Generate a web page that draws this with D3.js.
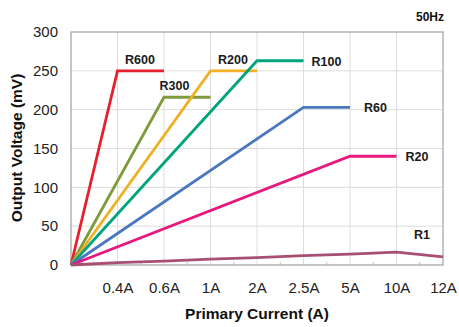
<!DOCTYPE html>
<html><head><meta charset="utf-8">
<script src="https://cdn.jsdelivr.net/npm/d3@7"></script>
<style>body{margin:0;background:#fff}svg{display:block}</style>
</head><body>
<svg id="c" width="459" height="327"></svg>
<script>
const categories = ["0", "0.4A", "0.6A", "1A", "2A", "2.5A", "5A", "10A", "12A"];
const yTicks = [0, 50, 100, 150, 200, 250, 300];
const seriesNames = ["R600", "R300", "R200", "R100", "R60", "R20", "R1"];
const seriesColors = ["#e5202f", "#7f9b3b", "#efb024", "#00a57b", "#4a77bf", "#e8177d", "#a84f74"];
const R600 = [0, 250, 250, null, null, null, null, null, null];
const R300 = [0, null, 216, 216, null, null, null, null, null];
const R200 = [0, null, null, 250, 250, null, null, null, null];
const R100 = [0, null, null, null, 263, 263, null, null, null];
const R60  = [0, null, null, null, null, 203, 203, null, null];
const R20  = [0, null, null, null, null, null, 140, 140, null];
const R1   = [0, 3, 5, 7.5, 9.5, 12, 14, 16.5, 10.5];
const seriesValues = [R600, R300, R200, R100, R60, R20, R1];
// label anchor: [category index, dx (px), dy (px), anchor]
const labelPos = [[2,-24,-7,"middle"],[3,-36,-7,"middle"],[4,-24,-7,"middle"],[5,8,5,"start"],[6,14,5,"start"],[7,9,5,"start"],[8,-21,-18,"middle"]];

const FONT = "Liberation Sans, Arial, sans-serif";
const svg = d3.select("#c");
const L = 71, R = 443, T = 32, B = 265;
const x = d3.scalePoint().domain(categories).range([L, R]);
const y = d3.scaleLinear().domain([0, 300]).range([B, T]);
const step = x.step();

// grid
const g = svg.append("g");
g.selectAll("line.v").data(categories.slice(1, 8)).enter().append("line")
  .attr("x1", d => x(d)).attr("x2", d => x(d)).attr("y1", T).attr("y2", B)
  .attr("stroke", "#dddddd").attr("stroke-width", 1);
g.selectAll("line.h").data(yTicks.slice(1, 6)).enter().append("line")
  .attr("x1", L).attr("x2", R).attr("y1", d => y(d)).attr("y2", d => y(d))
  .attr("stroke", "#dddddd").attr("stroke-width", 1);
// minor ticks on x
g.selectAll("line.m").data(categories.slice(0, 8)).enter().append("line")
  .attr("x1", d => x(d) + step / 2).attr("x2", d => x(d) + step / 2)
  .attr("y1", B - 3).attr("y2", B).attr("stroke", "#bbb");
// border
svg.append("rect").attr("x", L).attr("y", T).attr("width", R - L).attr("height", B - T)
  .attr("fill", "none").attr("stroke", "#a0a0a0").attr("stroke-width", 1.2);

// lines
const line = d3.line().x(d => x(d.c)).y(d => y(d.v));
seriesValues.forEach((vals, i) => {
  const pts = vals.map((v, j) => ({c: categories[j], v})).filter(d => d.v !== null);
  svg.append("path").datum(pts).attr("d", line).attr("fill", "none")
    .attr("stroke", seriesColors[i]).attr("stroke-width", 2.8).attr("stroke-linejoin", "miter");
});

// series labels
seriesNames.forEach((n, i) => {
  const [idx, dx, dy, anchor] = labelPos[i];
  const v = seriesValues[i][idx];
  svg.append("text").attr("x", x(categories[idx]) + dx).attr("y", y(v) + dy).attr("text-anchor", anchor)
    .attr("font-family", FONT).attr("font-size", 12.5)
    .attr("font-weight", "bold").attr("fill", "#1a1a1a").text(n);
});

// axes tick labels
const xa = svg.append("g").attr("transform", `translate(0,${B})`)
  .call(d3.axisBottom(x).tickValues(categories.slice(1)).tickSize(0).tickPadding(17));
xa.select(".domain").remove();
xa.selectAll("text").attr("font-family", FONT).attr("font-size", 15).attr("fill", "#222");
const ya = svg.append("g").attr("transform", `translate(${L},0)`)
  .call(d3.axisLeft(y).tickValues(yTicks).tickSize(0).tickPadding(13));
ya.select(".domain").remove();
ya.selectAll("text").attr("font-family", FONT).attr("font-size", 15).attr("fill", "#222");

// titles
svg.append("text").attr("x", 257).attr("y", 319).attr("text-anchor", "middle")
  .attr("font-family", FONT).attr("font-size", 15.5).attr("font-weight", "bold")
  .attr("fill", "#111").text("Primary Current (A)");
svg.append("text").attr("transform", `translate(22,148) rotate(-90)`).attr("text-anchor", "middle")
  .attr("font-family", FONT).attr("font-size", 15.5).attr("font-weight", "bold")
  .attr("fill", "#111").text("Output Voltage (mV)");
svg.append("text").attr("x", 444).attr("y", 21).attr("text-anchor", "end")
  .attr("font-family", FONT).attr("font-size", 12).attr("font-weight", "bold")
  .attr("fill", "#111").text("50Hz");
</script>
</body></html>
